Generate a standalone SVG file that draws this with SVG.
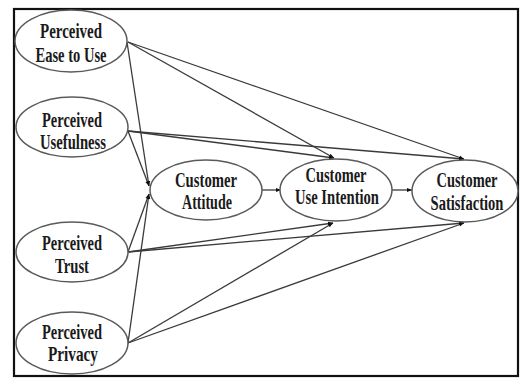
<svg xmlns="http://www.w3.org/2000/svg" width="520" height="378" viewBox="0 0 520 378">
<style>
.node ellipse{fill:#fff;stroke:#5a5a5a;stroke-width:1.5}
.node text{font-family:"Liberation Serif","Times New Roman",serif;font-weight:bold;font-size:21px;fill:#1a1a1a;text-anchor:middle}
.edges line{stroke:#3a3a3a;stroke-width:1.3;marker-end:url(#ah)}
</style>
<defs>
<marker id="ah" viewBox="0 0 10 10" refX="10" refY="5" markerWidth="5" markerHeight="5" orient="auto" markerUnits="userSpaceOnUse">
<path d="M0,1 L10,5 L0,9 Z" fill="#111"/>
</marker>
</defs>
<rect x="0" y="0" width="520" height="378" fill="#fff"/>
<rect x="14" y="9" width="504" height="367" fill="none" stroke="#111" stroke-width="2.2"/>
<g class="edges">
<line x1="127" y1="42" x2="149" y2="186"/>
<line x1="128" y1="42" x2="334" y2="158"/>
<line x1="128" y1="42" x2="464" y2="159"/>
<line x1="128" y1="131" x2="149" y2="186"/>
<line x1="128" y1="131" x2="334" y2="158"/>
<line x1="128" y1="131" x2="464" y2="159"/>
<line x1="128" y1="252" x2="149" y2="194"/>
<line x1="128" y1="252" x2="333" y2="223"/>
<line x1="128" y1="252" x2="464" y2="223"/>
<line x1="128" y1="343" x2="149" y2="194"/>
<line x1="128" y1="343" x2="333" y2="223"/>
<line x1="128" y1="343" x2="464" y2="223"/>
<line x1="262" y1="190" x2="281" y2="190"/>
<line x1="392" y1="190" x2="412" y2="190"/>
</g>
<g id="peu" class="node">
<ellipse cx="71" cy="41" rx="56" ry="31"/>
<text x="71" y="38" textLength="62" lengthAdjust="spacingAndGlyphs">Perceived</text>
<text x="71" y="62" textLength="71" lengthAdjust="spacingAndGlyphs">Ease to Use</text>
</g>
<g id="pu" class="node">
<ellipse cx="72" cy="127" rx="56" ry="30"/>
<text x="72" y="127" textLength="60" lengthAdjust="spacingAndGlyphs">Perceived</text>
<text x="73" y="149" textLength="66" lengthAdjust="spacingAndGlyphs">Usefulness</text>
</g>
<g id="pt" class="node">
<ellipse cx="72" cy="252" rx="56" ry="30"/>
<text x="72" y="250" textLength="60" lengthAdjust="spacingAndGlyphs">Perceived</text>
<text x="72" y="273" textLength="34" lengthAdjust="spacingAndGlyphs">Trust</text>
</g>
<g id="pp" class="node">
<ellipse cx="72" cy="343" rx="56" ry="31"/>
<text x="72" y="339" textLength="60" lengthAdjust="spacingAndGlyphs">Perceived</text>
<text x="73" y="361" textLength="50" lengthAdjust="spacingAndGlyphs">Privacy</text>
</g>
<g id="ca" class="node">
<ellipse cx="206" cy="190" rx="56" ry="30"/>
<text x="206" y="187" textLength="62" lengthAdjust="spacingAndGlyphs">Customer</text>
<text x="207" y="209" textLength="50" lengthAdjust="spacingAndGlyphs">Attitude</text>
</g>
<g id="cui" class="node">
<ellipse cx="336" cy="190" rx="56" ry="31"/>
<text x="336" y="182" textLength="61" lengthAdjust="spacingAndGlyphs">Customer</text>
<text x="337" y="204" textLength="84" lengthAdjust="spacingAndGlyphs">Use Intention</text>
</g>
<g id="cs" class="node">
<ellipse cx="465" cy="191" rx="53" ry="31"/>
<g transform="translate(467,0) scale(0.7,1)">
<text x="0" y="187" textLength="87" lengthAdjust="spacingAndGlyphs">Customer</text>
<text x="0" y="210" textLength="104" lengthAdjust="spacingAndGlyphs">Satisfaction</text>
</g>
</g>
</svg>
